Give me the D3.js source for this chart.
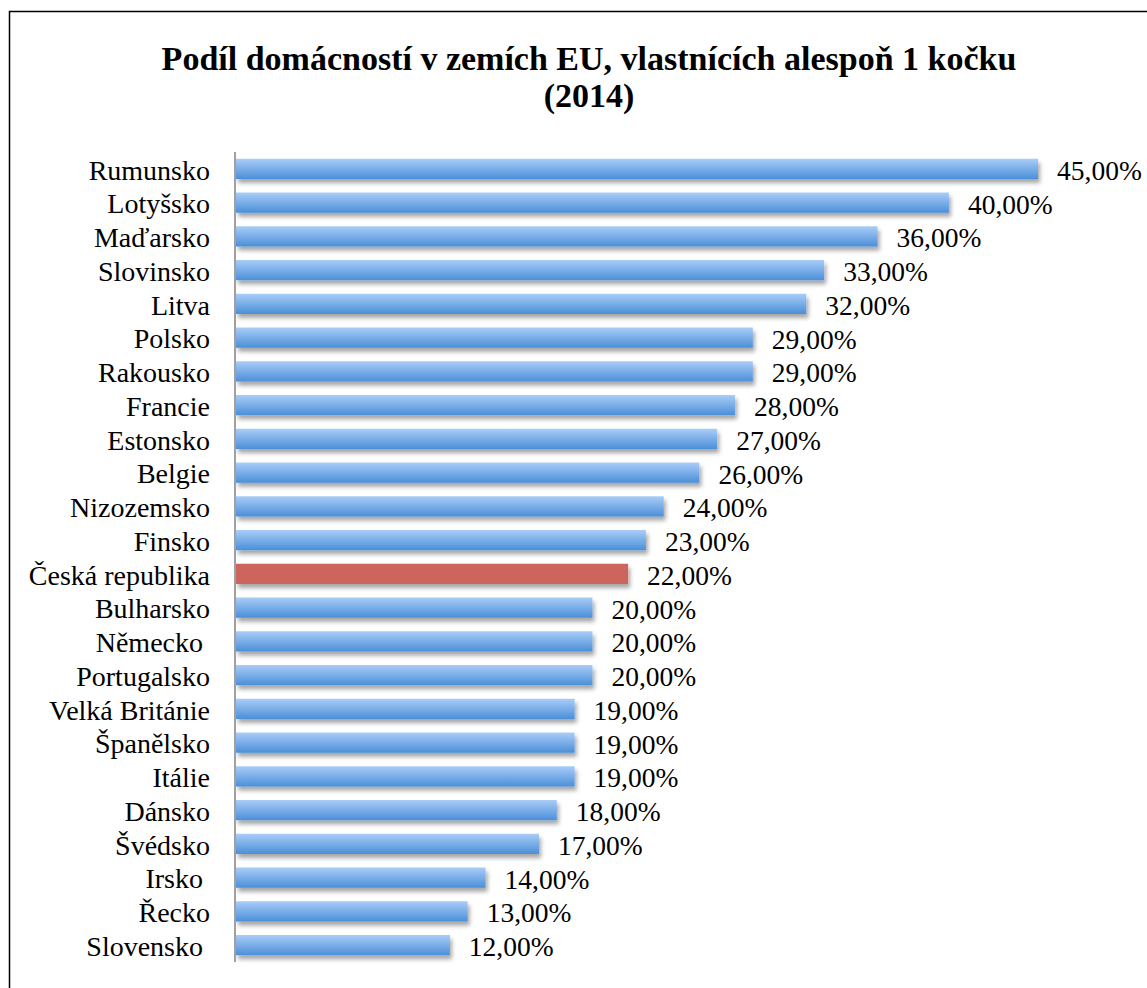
<!DOCTYPE html>
<html>
<head>
<meta charset="utf-8">
<script src="https://cdn.jsdelivr.net/npm/d3@7"></script>
<style>
  html, body { margin: 0; padding: 0; background: #fff; }
  svg { display: block; }
</style>
</head>
<body>
<svg id="chart" width="1147" height="988"></svg>
<script>
const titleLines = ["Podíl domácností v zemích EU, vlastnících alespoň 1 kočku", "(2014)"];
const categories = ["Rumunsko", "Lotyšsko", "Maďarsko", "Slovinsko", "Litva", "Polsko", "Rakousko", "Francie", "Estonsko", "Belgie", "Nizozemsko", "Finsko", "Česká republika", "Bulharsko", "Německo ", "Portugalsko", "Velká Británie", "Španělsko", "Itálie", "Dánsko", "Švédsko", "Irsko ", "Řecko", "Slovensko "];
const values = [45, 40, 36, 33, 32, 29, 29, 28, 27, 26, 24, 23, 22, 20, 20, 20, 19, 19, 19, 18, 17, 14, 13, 12];
const highlight = ["Česká republika"];

const svg = d3.select("#chart");
const font = "'Liberation Serif', 'Times New Roman', serif";

// frame
svg.append("rect").attr("x", 9.5).attr("y", 11.5).attr("width", 1200).attr("height", 1000)
  .attr("fill", "none").attr("stroke", "#000").attr("stroke-width", 1.5);

const defs = svg.append("defs");
const grad = defs.append("linearGradient").attr("id", "blueGrad").attr("x1", 0).attr("y1", 0).attr("x2", 0).attr("y2", 1);
grad.append("stop").attr("offset", "0%").attr("stop-color", "#a9cdf8");
grad.append("stop").attr("offset", "100%").attr("stop-color", "#4b8fd8");
const f = defs.append("filter").attr("id", "shadow").attr("x", "-5%").attr("y", "-50%").attr("width", "115%").attr("height", "250%");
f.append("feDropShadow").attr("dx", 2).attr("dy", 4).attr("stdDeviation", 2.2)
  .attr("flood-color", "#000").attr("flood-opacity", 0.35);

// title
svg.append("text").attr("x", 589).attr("y", 70).attr("text-anchor", "middle")
  .attr("font-family", font).attr("font-weight", "bold").attr("font-size", 34)
  .selectAll("tspan").data(titleLines).join("tspan")
  .attr("x", 589).attr("dy", (d, i) => i === 0 ? 0 : 37).text(d => d);

const x = d3.scaleLinear().domain([0, 45]).range([236, 1038]);
const y = d3.scaleBand().domain(categories).range([152, 962]).paddingInner(0.4).paddingOuter(0.2);

// bars
svg.append("g").selectAll("rect").data(categories).join("rect")
  .attr("x", x(0))
  .attr("y", d => y(d))
  .attr("width", (d, i) => x(values[i]) - x(0))
  .attr("height", y.bandwidth())
  .attr("fill", d => highlight.includes(d) ? "#cd655f" : "url(#blueGrad)")
  .attr("filter", "url(#shadow)");

// axis
const axis = svg.append("g").attr("transform", `translate(${x(0) - 1},0)`)
  .call(d3.axisLeft(y).tickSize(0).tickPadding(25));
axis.select(".domain").attr("d", "M0,152V962").attr("stroke", "#a0a0a0").attr("stroke-width", 2);
axis.selectAll(".tick text")
  .attr("font-family", font).attr("font-size", 28).attr("fill", "#000")
  .attr("dy", "0.38em").style("white-space", "pre");

// value labels
svg.append("g").selectAll("text").data(categories).join("text")
  .attr("x", (d, i) => x(values[i]) + 19)
  .attr("y", d => y(d) + y.bandwidth() / 2)
  .attr("dy", "0.4em")
  .attr("font-family", font).attr("font-size", 27.5).attr("fill", "#000")
  .text((d, i) => d3.format(".2f")(values[i]).replace(".", ",") + "%");
</script>
</body>
</html>
